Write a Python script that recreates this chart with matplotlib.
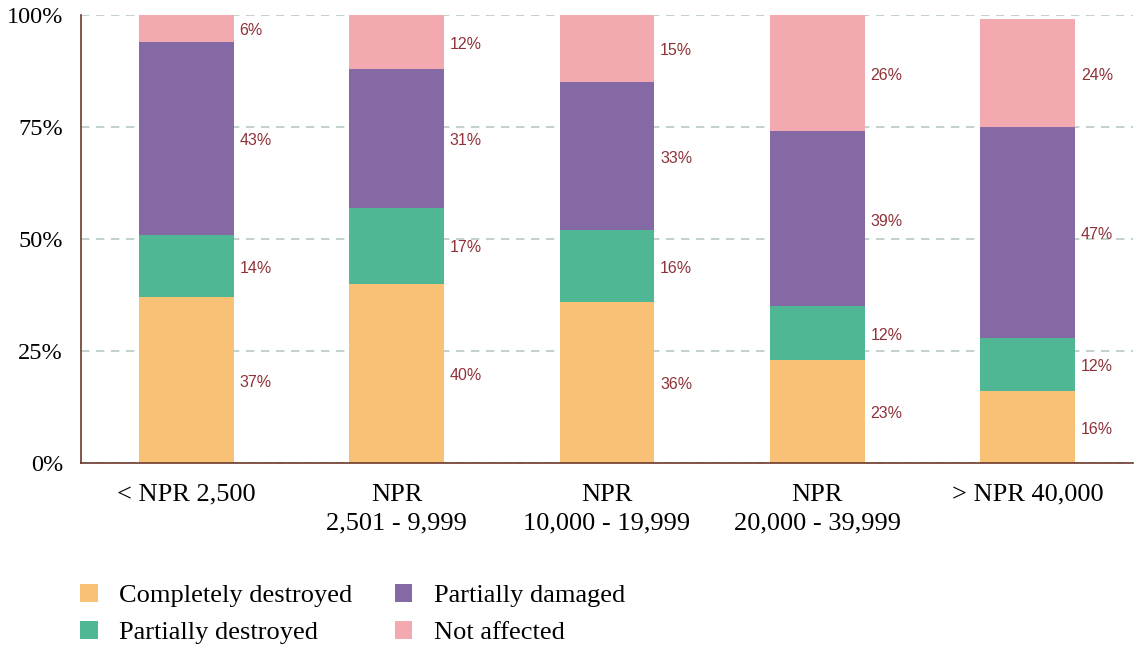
import matplotlib
matplotlib.use("Agg")
import matplotlib.pyplot as plt
import numpy as np
from matplotlib.patches import Patch

categories = ["< NPR 2,500", "NPR\n2,501 - 9,999", "NPR\n10,000 - 19,999",
              "NPR\n20,000 - 39,999", "> NPR 40,000"]
series_names = ["Completely destroyed", "Partially destroyed", "Partially damaged", "Not affected"]
completely_destroyed = [37, 40, 36, 23, 16]
partially_destroyed = [14, 17, 16, 12, 12]
partially_damaged = [43, 31, 33, 39, 47]
not_affected = [6, 12, 15, 26, 24]
y_ticks = [0, 25, 50, 75, 100]
y_tick_labels = ["0%", "25%", "50%", "75%", "100%"]

colors = ["#F9C176", "#50B794", "#8569A5", "#F2A9B0"]
label_color = "#8E3238"
serif = ["Liberation Serif", "DejaVu Serif"]

series = [completely_destroyed, partially_destroyed, partially_damaged, not_affected]

fig = plt.figure(figsize=(11.35, 6.48), dpi=100)
ax = fig.add_axes([81/1135, 1 - 463/648, (1133-81)/1135, (463-15)/648])

x = np.arange(len(categories))
bw = 0.45
bottom = np.zeros(len(categories))
for vals, c in zip(series, colors):
    vals = np.array(vals, dtype=float)
    ax.bar(x, vals, bw, bottom=bottom, color=c, zorder=2)
    for xi, b, v in zip(x, bottom, vals):
        ax.text(xi + bw/2 + 0.028, b + v/2 - 0.5, f"{int(v)}%", color=label_color,
                fontsize=11.5, family=["Liberation Sans", "DejaVu Sans"],
                ha="left", va="center", zorder=3)
    bottom += vals

ax.set_xlim(-0.5, 4.5)
ax.set_ylim(0, 100)
ax.set_yticks(y_ticks)
ax.set_yticklabels(y_tick_labels, family=serif, fontsize=17.5)
ax.set_xticks(x)
ax.set_xticklabels(categories, family=serif, fontsize=19, linespacing=1.4)
ax.tick_params(axis="both", length=0)
ax.tick_params(axis="x", pad=15)
ax.tick_params(axis="y", pad=13)
for t in ax.get_yticklabels():
    t.set_va("center_baseline")

ax.yaxis.grid(True, linestyle=(0, (5, 4)), color="#B7C9C2", linewidth=1.2, zorder=0)
ax.set_axisbelow(True)
for s in ["top", "right"]:
    ax.spines[s].set_visible(False)
for s in ["left", "bottom"]:
    ax.spines[s].set_color("#6B3A2A")
    ax.spines[s].set_linewidth(1.2)

handles = [Patch(facecolor=c, edgecolor="none") for c in colors]
fig.legend(handles, series_names, loc="lower left", bbox_to_anchor=(80/1135, 4/648),
           ncol=2, frameon=False, prop={"family": serif, "size": 19},
           borderpad=0, borderaxespad=0,
           handlelength=0.68, handleheight=0.68, handletextpad=0.8,
           columnspacing=1.6, labelspacing=0.5)

fig.savefig("out.png", dpi=100)
